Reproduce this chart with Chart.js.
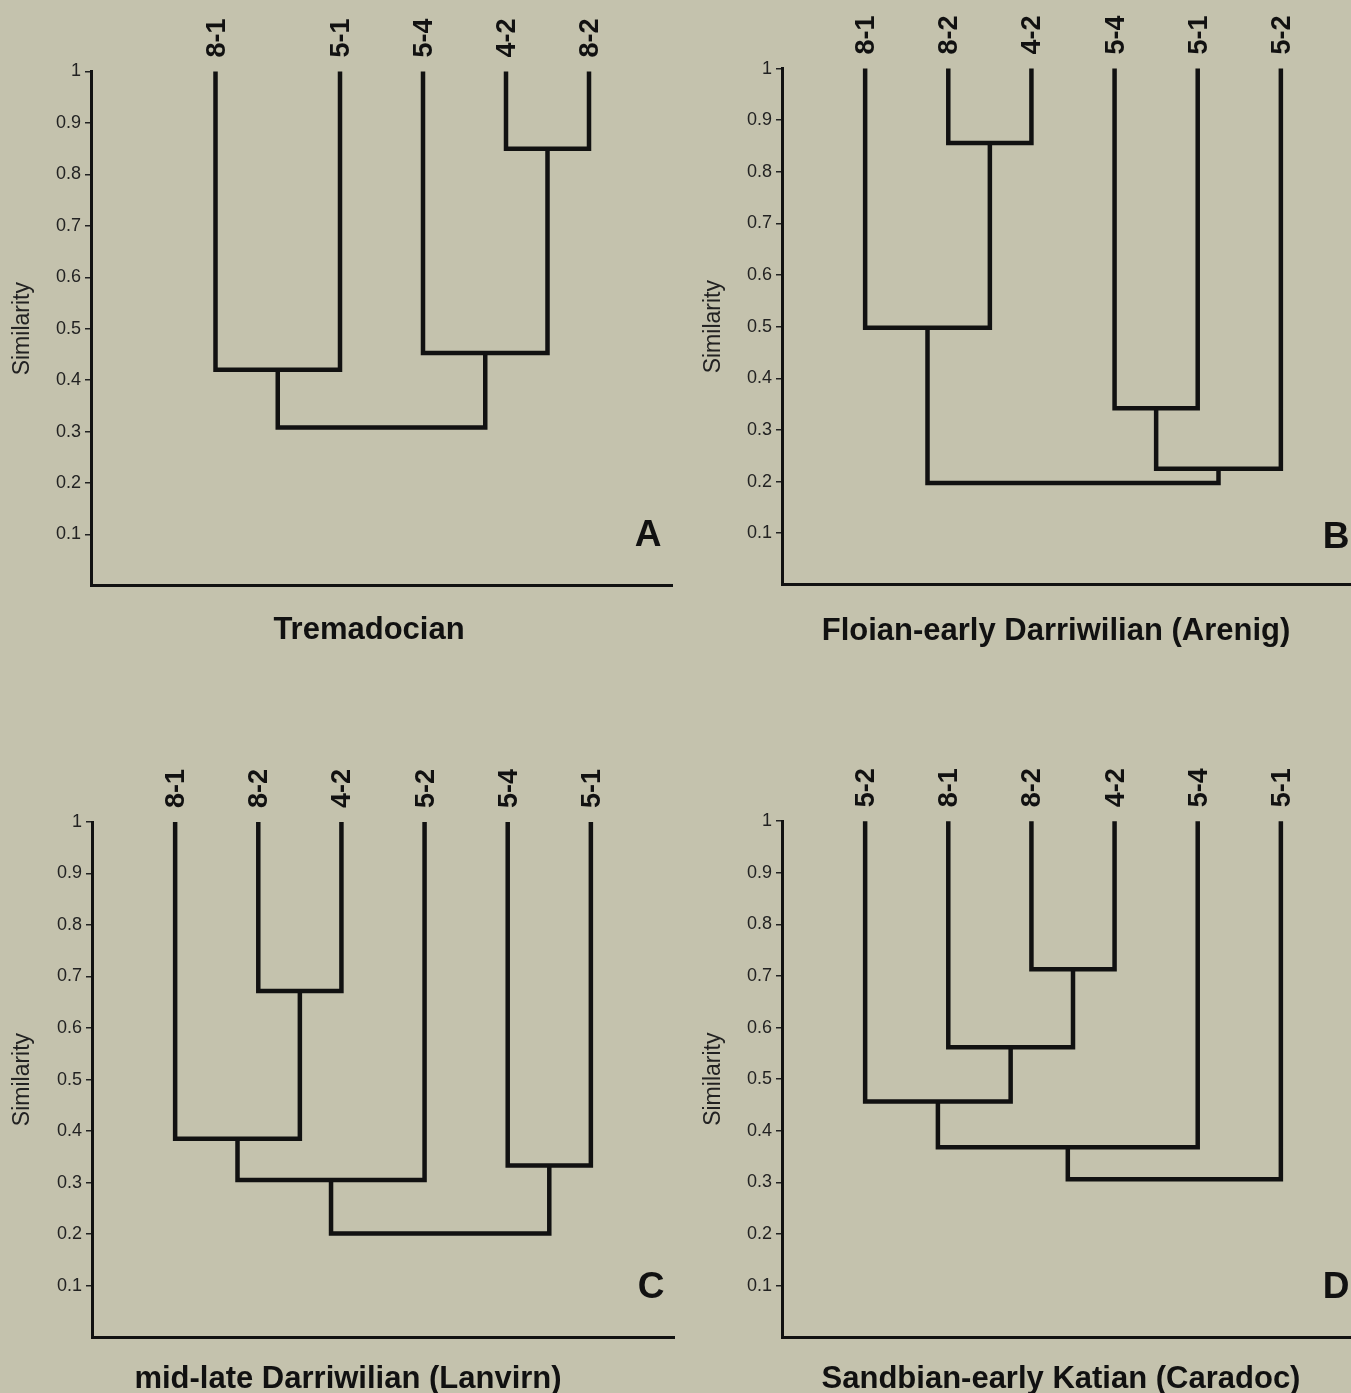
<!DOCTYPE html>
<html lang="en">
<head>
<meta charset="UTF-8">
<title>Similarity dendrograms</title>
<script src="https://cdn.jsdelivr.net/npm/chart.js"></script>
<style>
  body {
    margin: 0;
    background: #c4c2ad;
    width: 1351px;
    height: 1393px;
    overflow: hidden;
    position: relative;
  }
  canvas { position: absolute; }
</style>
</head>
<body>
<canvas id="chartA" width="680" height="700" style="left:0px;top:0px"></canvas>
<canvas id="chartB" width="680" height="700" style="left:691px;top:0px"></canvas>
<canvas id="chartC" width="680" height="653" style="left:0px;top:740px"></canvas>
<canvas id="chartD" width="680" height="653" style="left:691px;top:740px"></canvas>
<script>
// A - Tremadocian
const aLeaves = ['8-1', '5-1', '5-4', '4-2', '8-2'];
const aLeafX = [1.5, 3, 4, 5, 6];
// [node, node, similarity] - leaves are 0..n-1, each merge adds a new node
const aMerges = [[3, 4, 0.85], [0, 1, 0.42], [2, 5, 0.453], [6, 7, 0.308]];

// B - Floian-early Darriwilian (Arenig)
const bLeaves = ['8-1', '8-2', '4-2', '5-4', '5-1', '5-2'];
const bLeafX = [1, 2, 3, 4, 5, 6];
const bMerges = [[1, 2, 0.856], [0, 6, 0.498], [3, 4, 0.342], [8, 5, 0.225], [7, 9, 0.197]];

// C - mid-late Darriwilian (Lanvirn)
const cLeaves = ['8-1', '8-2', '4-2', '5-2', '5-4', '5-1'];
const cLeafX = [1, 2, 3, 4, 5, 6];
const cMerges = [[1, 2, 0.672], [0, 6, 0.385], [7, 3, 0.305], [4, 5, 0.333], [8, 9, 0.201]];

// D - Sandbian-early Katian (Caradoc)
const dLeaves = ['5-2', '8-1', '8-2', '4-2', '5-4', '5-1'];
const dLeafX = [1, 2, 3, 4, 5, 6];
const dMerges = [[2, 3, 0.713], [1, 6, 0.562], [0, 7, 0.457], [8, 4, 0.368], [9, 5, 0.306]];

const FONT = '"Liberation Sans", Arial, Helvetica, sans-serif';
Chart.defaults.font.family = FONT;

const panels = [
    { id: 'chartA', title: 'Tremadocian', letter: 'A', leaves: aLeaves, leafX: aLeafX, merges: aMerges,
      box: { left: 91, right: 672, top: 71.5, bottom: 585.9 }, titleX: 369, titleY: 630, letterX: 648, letterY: 536 },
    { id: 'chartB', title: 'Floian-early Darriwilian (Arenig)', letter: 'B', leaves: bLeaves, leafX: bLeafX, merges: bMerges,
      box: { left: 91, right: 673, top: 68.6, bottom: 584.8 }, titleX: 365, titleY: 631, letterX: 645, letterY: 538 },
    { id: 'chartC', title: 'mid-late Darriwilian (Lanvirn)', letter: 'C', leaves: cLeaves, leafX: cLeafX, merges: cMerges,
      box: { left: 92, right: 674, top: 82, bottom: 597.1 }, titleX: 348, titleY: 639, letterX: 651, letterY: 548 },
    { id: 'chartD', title: 'Sandbian-early Katian (Caradoc)', letter: 'D', leaves: dLeaves, leafX: dLeafX, merges: dMerges,
      box: { left: 91, right: 673, top: 81.2, bottom: 597.2 }, titleX: 370, titleY: 639, letterX: 645, letterY: 548 }
];

// one U-shaped line per merge
function buildDatasets(leafX, merges) {
    const nodeX = leafX.slice();
    const nodeY = leafX.map(() => 1);
    return merges.map(([a, b, h]) => {
        const pts = [
            { x: nodeX[a], y: nodeY[a] },
            { x: nodeX[a], y: h },
            { x: nodeX[b], y: h },
            { x: nodeX[b], y: nodeY[b] }
        ];
        nodeX.push((nodeX[a] + nodeX[b]) / 2);
        nodeY.push(h);
        return {
            data: pts,
            showLine: true,
            borderColor: '#111',
            borderWidth: 4.5,
            pointRadius: 0,
            borderJoinStyle: 'miter',
            borderCapStyle: 'butt',
            tension: 0,
            clip: false
        };
    });
}

const captionPlugin = {
    id: 'caption',
    afterDraw(chart, args, opts) {
        const ctx = chart.ctx;
        ctx.save();
        ctx.fillStyle = '#111';
        ctx.textAlign = 'center';
        ctx.textBaseline = 'middle';
        ctx.font = 'bold 31px ' + FONT;
        ctx.fillText(opts.title, opts.titleX, opts.titleY);
        ctx.font = 'bold 37px ' + FONT;
        ctx.fillText(opts.letter, opts.letterX, opts.letterY);
        ctx.restore();
    }
};

panels.forEach(p => {
    const canvas = document.getElementById(p.id);
    new Chart(canvas, {
        type: 'scatter',
        data: { datasets: buildDatasets(p.leafX, p.merges) },
        options: {
            responsive: false,
            animation: false,
            events: [],
            layout: { padding: { left: 0, top: 0, bottom: 0, right: canvas.width - p.box.right } },
            plugins: {
                legend: { display: false },
                tooltip: { enabled: false },
                caption: { title: p.title, letter: p.letter, titleX: p.titleX, titleY: p.titleY, letterX: p.letterX, letterY: p.letterY }
            },
            scales: {
                x: {
                    type: 'linear', position: 'bottom', min: 0, max: 7,
                    ticks: { display: false },
                    grid: { display: false, drawTicks: false },
                    border: { color: '#111', width: 3 },
                    afterFit: s => { s.height = canvas.height - p.box.bottom; }
                },
                xTop: {
                    type: 'linear', position: 'top', min: 0, max: 7,
                    grid: { display: false, drawTicks: false },
                    border: { display: false },
                    afterBuildTicks: s => { s.ticks = p.leafX.map(v => ({ value: v })); },
                    ticks: {
                        autoSkip: false, minRotation: 90, maxRotation: 90, padding: 14, labelOffset: 34,
                        color: '#111', font: { size: 27, weight: 'bold' },
                        callback: (v, i) => p.leaves[i]
                    },
                    afterFit: s => { s.height = p.box.top; }
                },
                y: {
                    min: 0, max: 1,
                    ticks: {
                        stepSize: 0.1, padding: 4, color: '#222', font: { size: 18 },
                        callback: v => v === 0 ? '' : String(Math.round(v * 10) / 10)
                    },
                    grid: {
                        drawOnChartArea: false, tickLength: 6, lineWidth: 1.5,
                        color: c => (c.tick && c.tick.value === 0) ? 'rgba(0,0,0,0)' : '#222'
                    },
                    border: { color: '#111', width: 3 },
                    title: { display: true, text: 'Similarity', color: '#222', font: { size: 23 }, padding: { top: 9, bottom: 0 } },
                    afterFit: s => { s.width = p.box.left; }
                }
            }
        },
        plugins: [captionPlugin]
    });
});
</script>
</body>
</html>
